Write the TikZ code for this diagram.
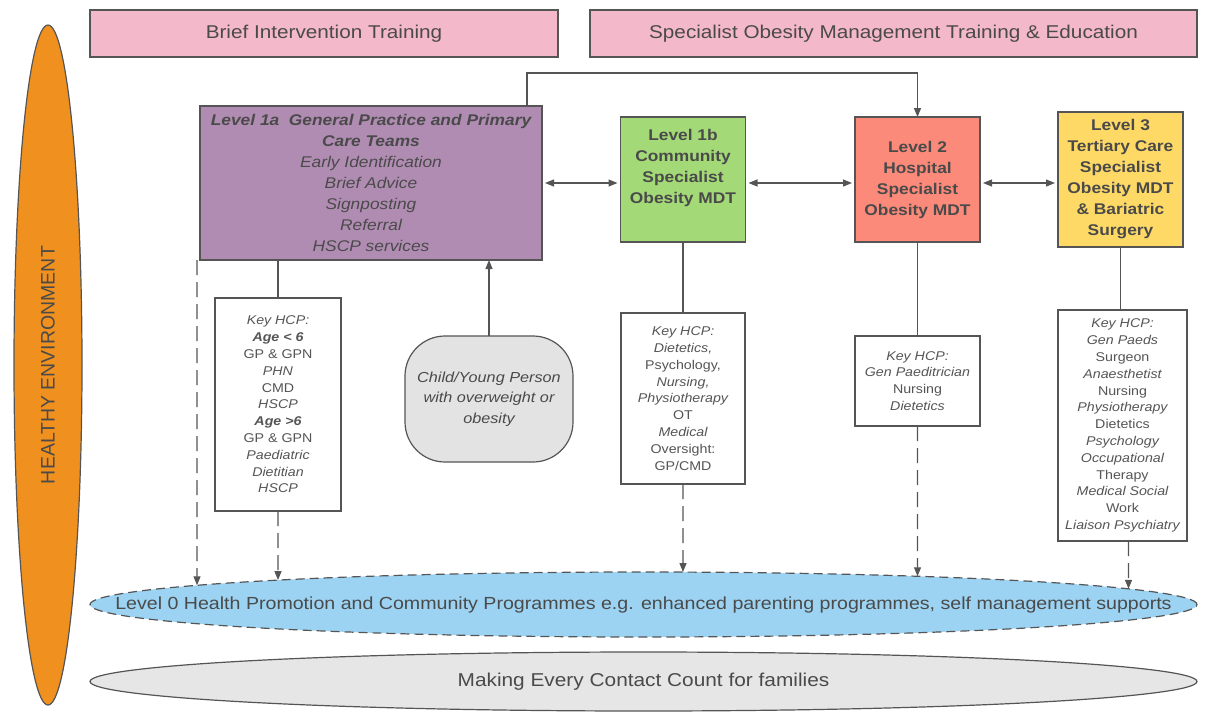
\documentclass[tikz,border=0pt]{standalone}
\usepackage{fontspec}
\setmainfont{Liberation Sans}[FakeStretch=1.12]
\newfontfamily\plainsans{Liberation Sans}
\usetikzlibrary{arrows.meta,positioning,shapes.geometric,intersections}

\definecolor{linegray}{HTML}{555555}
\definecolor{inkgray}{HTML}{4A4A4A}
\definecolor{envorange}{HTML}{F0901E}
\definecolor{bannerpink}{HTML}{F4B8CB}
\definecolor{lev1a}{HTML}{B08CB2}
\definecolor{lev1b}{HTML}{A3D977}
\definecolor{lev2}{HTML}{FB8A7A}
\definecolor{lev3}{HTML}{FFD966}
\definecolor{childgray}{HTML}{E3E3E3}
\definecolor{lev0blue}{HTML}{9DD3F2}
\definecolor{meccgray}{HTML}{E6E6E6}

\tikzset{
	obesity chart/.style={x=1pt, y=-1pt, line width=1.2pt, color=linegray,
		node distance=40pt and 40pt},
	box/.style={draw=linegray, line width=1.2pt, align=center, inner sep=0pt,
		outer sep=0pt, text=inkgray},
	banner/.style={box, fill=bannerpink, minimum height=47,
		font=\fontsize{18.5}{22}\selectfont},
	level/.style={box, fill=#1, minimum width=125, minimum height=125,
		font=\fontsize{15.5}{21}\selectfont\bfseries},
	keybox/.style={box, fill=white, text=linegray,
		font=\fontsize{12.7}{16.8}\selectfont\itshape},
	oval/.style={ellipse, draw=linegray, line width=1.2pt, inner sep=0pt,
		outer sep=0pt, text=inkgray},
	arr/.style={-{Triangle[length=9pt,width=7pt]}},
	twoway/.style={{Triangle[length=9pt,width=7pt]}-{Triangle[length=9pt,width=7pt]},
		shorten <=3pt, shorten >=3pt},
	drop/.style={arr, dash pattern=on 15pt off 7pt},
}

\begin{document}
\begin{tikzpicture}[obesity chart]
\useasboundingbox (0,0) rectangle (1205,713);

\node[oval, rotate=90, fill=envorange, minimum width=680, minimum height=68,
	font=\plainsans\fontsize{19.5}{22}\selectfont] (env) at (48,365) {HEALTHY ENVIRONMENT};

\node[banner, minimum width=468] (brief) at (324,33.5) {Brief Intervention Training};
\node[banner, minimum width=607] (trainEd) at (893.5,33.5)
	{Specialist Obesity Management Training \& Education};

% levels of care
\node[level=lev1a, minimum width=342, minimum height=154,
	font=\fontsize{15.5}{21}\selectfont\itshape] (lvlA) at (371,183)
	{\textbf{Level 1a~ General Practice and Primary}\\\textbf{Care Teams}\\
	 Early Identification\\Brief Advice\\Signposting\\Referral\\HSCP services};
\node[level=lev1b] (lvlB) at (683,179.5)
	{Level 1b\\Community\\Specialist\\Obesity MDT\\[5pt]\phantom{X}};
\node[level=lev2] (lvl2) at (917.5,179.5)
	{Level 2\\Hospital\\Specialist\\Obesity MDT};
\node[level=lev3, minimum height=135] (lvl3) at (1120.5,179.5)
	{Level 3\\Tertiary Care\\Specialist\\Obesity MDT\\\& Bariatric\\Surgery};

% key health care professionals
\node[keybox, minimum width=126, minimum height=213] (keyA) at (278,404.5)
	{Key HCP:\\\textbf{Age < 6}\\\textup{GP \& GPN}\\PHN\\\textup{CMD}\\HSCP\\
	 \textbf{Age >6}\\\textup{GP \& GPN}\\Paediatric\\Dietitian\\HSCP};
\node[keybox, minimum width=124, minimum height=171, below=71pt of lvlB] (keyB)
	{Key HCP:\\Dietetics,\\\textup{Psychology,}\\Nursing,\\Physiotherapy\\\textup{OT}\\
	 Medical\\\textup{Oversight:}\\\textup{GP/CMD}};
\node[keybox, minimum width=125, minimum height=90, below=94pt of lvl2] (keyC)
	{Key HCP:\\Gen Paeditrician\\\textup{Nursing}\\Dietetics};
\node[keybox, minimum width=129, minimum height=231] (keyD) at (1122.5,425.5)
	{Key HCP:\\Gen Paeds\\\textup{Surgeon}\\Anaesthetist\\\textup{Nursing}\\Physiotherapy\\
	 \textup{Dietetics}\\Psychology\\Occupational\\\textup{Therapy}\\Medical Social\\
	 \textup{Work}\\Liaison Psychiatry};

\node[box, rounded corners=40pt, fill=childgray, minimum width=168, minimum height=126,
	font=\fontsize{14.5}{20.5}\selectfont\itshape] (child) at (489,399)
	{Child/Young Person\\with overweight or\\obesity};

\node[oval, fill=lev0blue, dash pattern=on 9pt off 5pt, minimum width=1107,
	minimum height=65, name path=level0, font=\fontsize{17.5}{21}\selectfont] (lvl0)
	at (643.5,604.5) {\makebox[0pt]{Level 0 Health Promotion and Community Programmes
	e.g. enhanced parenting programmes, self management supports}};
\node[oval, fill=meccgray, minimum width=1107, minimum height=59,
	font=\fontsize{18.6}{22}\selectfont] (mecc) at (643.5,681.5)
	{Making Every Contact Count for families};

% links
\draw[twoway] (lvlA.east) -- (lvlA.east -| lvlB.west);
\draw[twoway] (lvlB.east |- lvlA.east) -- (lvl2.west |- lvlA.east);
\draw[twoway] (lvl2.east |- lvlA.east) -- (lvl3.west |- lvlA.east);
\draw[arr] ([xshift=-15pt]lvlA.north east) -- ++(0,-33) -| (lvl2.north);
\draw[arr] (child.north) -- (child.north |- lvlA.south);
\draw (keyA.north |- lvlA.south) -- (keyA.north);
\draw (lvlB.south) -- (keyB.north);
\draw (lvl2.south) -- (keyC.north);
\draw (lvl3.south) -- (lvl3.south |- keyD.north);

\coordinate (dropL) at ([xshift=-3pt]lvlA.south west);
\coordinate (dropD) at ([xshift=6pt]keyD.south);
\foreach \from in {dropL, keyA.south, keyB.south, keyC.south, dropD} {
	\path[name path=drop] (\from) -- ++(0,400);
	\draw[drop, name intersections={of=drop and level0, sort by=drop}]
		(\from) -- (intersection-1);
}
\end{tikzpicture}
\end{document}
